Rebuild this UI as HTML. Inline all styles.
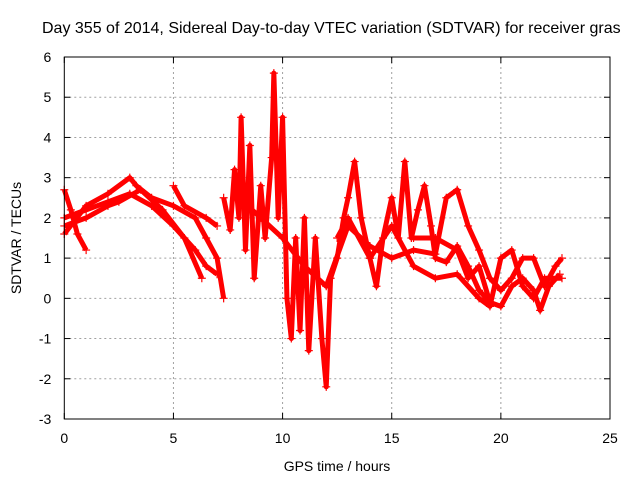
<!DOCTYPE html>
<html><head><meta charset="utf-8"><style>
body{margin:0;background:#fff}
svg{display:block;font-family:"Liberation Sans",sans-serif}
</style></head><body>
<svg id="chart" width="640" height="480">
<rect width="640" height="480" fill="#fff"/>
<text x="42" y="33" font-size="16" fill="#000">Day 355 of 2014, Sidereal Day-to-day VTEC variation (SDTVAR) for receiver gras</text>
<text transform="translate(21,238) rotate(-90)" text-anchor="middle" font-size="14">SDTVAR / TECUs</text>
<text x="337" y="471" text-anchor="middle" font-size="14">GPS time / hours</text>
<g id="grid"></g><g id="ticks"></g><g id="series"></g>
<rect x="64.3" y="57" width="545.7" height="362" fill="none" stroke="#000" stroke-width="1"/>
</svg>
<script>
const xTicks=[0,5,10,15,20,25];
const yTicks=[-3,-2,-1,0,1,2,3,4,5,6];
const traceA_t=[0,0.3,0.6,1];
const traceA_v=[2.7,2.2,1.6,1.2];
const traceB_t=[0,1,2,3,3.3,4,5,6,6.5,7,7.3];
const traceB_v=[1.6,2.3,2.6,3.0,2.8,2.5,2.3,2.0,1.5,1.0,0.0];
const traceC_t=[0,1,2,3,4,5,6,6.5,7];
const traceC_v=[2.0,2.2,2.4,2.6,2.3,1.8,1.2,0.8,0.6];
const traceD_t=[0,1,2,2.5,3.5,4.5,5.5,6.3];
const traceD_v=[1.8,2.0,2.3,2.4,2.7,2.2,1.5,0.5];
const traceE_t=[5,5.5,6.5,7];
const traceE_v=[2.8,2.3,2.0,1.8];
const traceF_t=[7.3,7.6,7.8,8,8.1,8.3,8.5,8.7,9,9.2,9.5,9.6,9.8,10,10.2,10.4,10.6,10.8,11,11.2,11.5,11.8,12,12.2,12.5,12.8,13,13.3,13.6,14,14.3,14.6,15,15.3,15.6,15.9,16.2,16.5,16.8,17,17.5,18,18.5,19,19.5,20,20.5,21,21.5,21.8,22.2,22.7];
const traceF_v=[2.5,1.7,3.2,2.0,4.5,1.2,3.8,0.5,2.8,1.5,3.5,5.6,2.0,4.5,0.0,-1.0,1.5,-0.8,2.0,-1.3,1.5,-1.0,-2.2,0.5,1.0,2.0,2.5,3.4,2.0,1.0,0.3,1.5,2.5,1.5,3.4,1.5,2.2,2.8,1.8,1.0,0.9,1.3,0.8,0.2,-0.1,-0.2,0.3,0.5,0.2,-0.3,0.3,0.6];
const traceG_t=[8,9,10,11,12,13,14,15,16,17,17.5,18,18.5,19,19.5,20,20.5,21,21.5,22,22.5,22.8];
const traceG_v=[2.5,2.0,1.5,0.8,0.3,1.8,1.3,1.0,1.2,1.1,2.5,2.7,1.8,1.2,0.5,0.2,0.5,1.0,1.0,0.3,0.8,1.0];
const traceH_t=[12.5,13,14,15,16,17,18,19,19.5,20,20.5,21,21.5,22,22.8];
const traceH_v=[1.5,2.0,1.0,1.8,0.8,0.5,0.6,0.0,-0.2,1.0,1.2,0.3,0.0,0.5,0.5];
const traceI_t=[16,17,18,18.5,19,19.5];
const traceI_v=[1.5,1.5,1.2,0.5,0.8,-0.1];
const traces=[[traceA_t,traceA_v],[traceB_t,traceB_v],[traceC_t,traceC_v],[traceD_t,traceD_v],[traceE_t,traceE_v],[traceF_t,traceF_v],[traceG_t,traceG_v],[traceH_t,traceH_v],[traceI_t,traceI_v]];

const NS="http://www.w3.org/2000/svg";
const X0=64.3,X1=610,Y0=419,Y1=57;
function xs(t){return X0+(t-0)/(25-0)*(X1-X0);}
function ys(v){return Y0-(v+3)/(6+3)*(Y0-Y1);}
function mk(tag,attrs,parent){const e=document.createElementNS(NS,tag);for(const k in attrs)e.setAttribute(k,attrs[k]);parent.appendChild(e);return e;}
const grid=document.getElementById('grid'),ticks=document.getElementById('ticks'),ser=document.getElementById('series');
xTicks.forEach(t=>{
  const x=xs(t);
  if(t>0&&t<25){const g=mk('line',{x1:x,x2:x,y1:Y1,y2:Y0,stroke:'#a0a0a0','stroke-dasharray':'2,3'},grid);
  
  }
  mk('line',{x1:x,x2:x,y1:Y0,y2:Y0-6,stroke:'#000'},ticks);
  mk('line',{x1:x,x2:x,y1:Y1,y2:Y1+6,stroke:'#000'},ticks);
  const l=mk('text',{x:x,y:Y0+24,'text-anchor':'middle','font-size':'14'},ticks);l.textContent=t;
  
  
});
yTicks.forEach(v=>{
  const y=ys(v);
  if(v>-3&&v<6){const g=mk('line',{x1:X0,x2:X1,y1:y,y2:y,stroke:'#a0a0a0','stroke-dasharray':'2,3'},grid);
  
  }
  mk('line',{x1:X0,x2:X0+6,y1:y,y2:y,stroke:'#000'},ticks);
  mk('line',{x1:X1,x2:X1-6,y1:y,y2:y,stroke:'#000'},ticks);
  const l=mk('text',{x:X0-13,y:y+5,'text-anchor':'end','font-size':'14'},ticks);l.textContent=v;
  
  
});
traces.forEach(([ts,vs],i)=>{
  const pts=ts.map((t,j)=>xs(t)+','+ys(vs[j])).join(' ');
  const p=mk('polyline',{points:pts,fill:'none',stroke:'#ff0000','stroke-width':'5','stroke-linejoin':'round'},ser);
  
  
  ts.forEach((t,j)=>{
    const x=xs(t),y=ys(vs[j]);
    const m=mk('path',{d:`M${x-4},${y}H${x+4}M${x},${y-4}V${y+4}`,stroke:'#ff0000','stroke-width':'1.2'},ser);
    
    
  });
});
</script>
</body></html>
